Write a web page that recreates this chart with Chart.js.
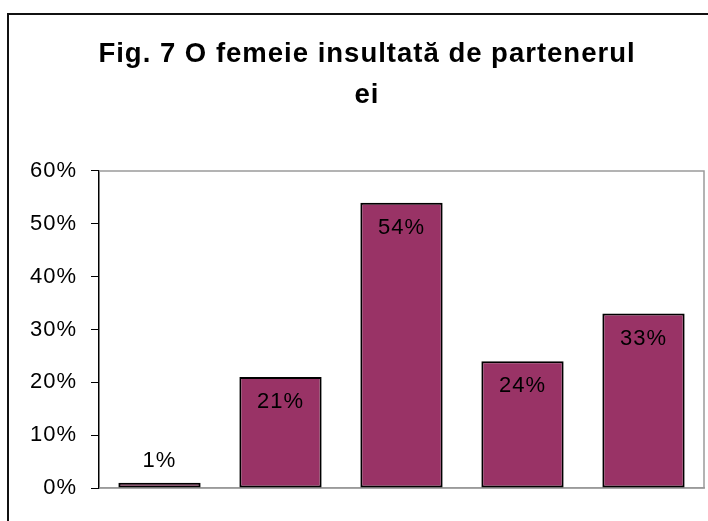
<!DOCTYPE html>
<html>
<head>
<meta charset="utf-8">
<script src="https://cdn.jsdelivr.net/npm/chart.js@4.4.1/dist/chart.umd.min.js"></script>
<style>
  html, body { margin: 0; padding: 0; background: #fff; overflow: hidden; }
  #frame { position: absolute; left: 7px; top: 13px; width: 800px; height: 600px; border: 2px solid #111; }
  #wrap { position: absolute; left: 0; top: 0; width: 734px; height: 521px; }
</style>
</head>
<body>
<div id="frame"></div>
<div id="wrap"><canvas id="figChart"></canvas></div>
<script>
const titleLines = ['Fig. 7 O femeie insultată de partenerul', 'ei'];
const categories = ['1', '2', '3', '4', '5'];
const values = [1, 21, 54, 24, 33];
const yTicks = [0, 10, 20, 30, 40, 50, 60];

const FONT = '"Liberation Sans", Arial, sans-serif';

// the original text is a little wider spaced than Arial
const spacing = {
  id: 'spacing',
  beforeUpdate(chart) { chart.ctx.letterSpacing = '1px'; },
  beforeDraw(chart) { chart.ctx.letterSpacing = '1px'; }
};

// grey frame round the plot area (top, right, bottom)
const plotFrame = {
  id: 'plotFrame',
  beforeDatasetsDraw(chart) {
    const { ctx, chartArea: a } = chart;
    ctx.save();
    ctx.strokeStyle = '#9a9a9a';
    ctx.lineWidth = 1.5;
    ctx.beginPath();
    ctx.moveTo(a.left, a.top);
    ctx.lineTo(a.right, a.top);
    ctx.lineTo(a.right, a.bottom);
    ctx.lineTo(a.left, a.bottom);
    ctx.stroke();
    ctx.restore();
  }
};

// value labels: inside the top of the bar, above it when the bar is too short
const barLabels = {
  id: 'barLabels',
  afterDatasetsDraw(chart) {
    const { ctx } = chart;
    const meta = chart.getDatasetMeta(0);
    ctx.save();
    ctx.font = '22px ' + FONT;
    ctx.fillStyle = '#000';
    ctx.textAlign = 'center';
    ctx.textBaseline = 'middle';
    meta.data.forEach((bar, i) => {
      const h = bar.base - bar.y;
      const y = h > 45 ? bar.y + 25 : bar.y - 22;
      ctx.fillText(values[i] + '%', bar.x, y);
    });
    ctx.restore();
  }
};

new Chart(document.getElementById('figChart'), {
  type: 'bar',
  data: {
    labels: categories,
    datasets: [{
      data: values,
      backgroundColor: '#993366',
      borderColor: '#000',
      borderWidth: 2,
      borderSkipped: false,
      barPercentage: 0.68,
      categoryPercentage: 1
    }]
  },
  options: {
    responsive: true,
    maintainAspectRatio: false,
    animation: false,
    layout: { padding: { left: 30, right: 30, bottom: 25 } },
    plugins: {
      legend: { display: false },
      tooltip: { enabled: false },
      title: {
        display: true,
        text: titleLines,
        color: '#000',
        font: { family: FONT, size: 27.5, weight: 'bold', lineHeight: 1.49 },
        padding: { top: 34, bottom: 55 }
      }
    },
    scales: {
      x: {
        grid: { display: false },
        border: { color: '#9a9a9a', width: 1.5 },
        ticks: { display: false }
      },
      y: {
        min: 0,
        max: 60,
        afterBuildTicks: (axis) => { axis.ticks = yTicks.map(v => ({ value: v })); },
        afterFit: (axis) => { axis.width = 69; },
        grid: { drawOnChartArea: false, drawTicks: true, tickLength: 8, color: '#000' },
        border: { color: '#000', width: 1.5 },
        ticks: {
          padding: 14,
          color: '#000',
          font: { family: FONT, size: 22 },
          callback: (v) => v + '%'
        }
      }
    }
  },
  plugins: [spacing, plotFrame, barLabels]
});
</script>
</body>
</html>
